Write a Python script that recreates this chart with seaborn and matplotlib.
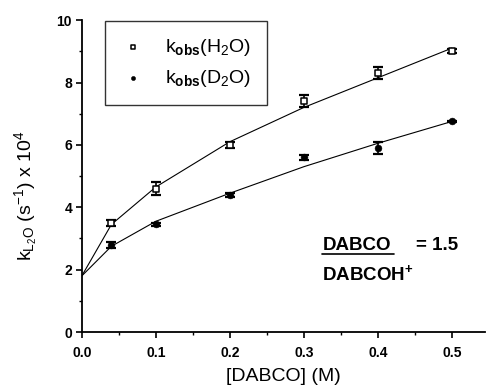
import numpy as np
import pandas as pd
import matplotlib
matplotlib.use("Agg")
import matplotlib.pyplot as plt
from matplotlib.ticker import MultipleLocator
import seaborn as sns

sns.set_theme(style="ticks")
plt.rcParams['font.family'] = ['Liberation Sans', 'DejaVu Sans']
plt.rcParams['mathtext.fontset'] = 'custom'
plt.rcParams['mathtext.rm'] = 'Liberation Sans'
plt.rcParams['mathtext.it'] = 'Liberation Sans'
plt.rcParams['mathtext.bf'] = 'Liberation Sans:bold'
for key in ("text.color", "axes.labelcolor", "xtick.color", "ytick.color",
            "axes.edgecolor"):
    plt.rcParams[key] = "black"

# measured rate constants
dabco = [0.04, 0.1, 0.2, 0.3, 0.4, 0.5]
k_h2o = [3.5, 4.6, 6.0, 7.4, 8.3, 9.0]
err_h2o = [0.1, 0.2, 0.1, 0.2, 0.2, 0.07]
k_d2o = [2.8, 3.45, 4.4, 5.6, 5.9, 6.75]
err_d2o = [0.1, 0.05, 0.07, 0.07, 0.2, 0.03]

# fitted curves
fit_x = [0.0, 0.04, 0.1, 0.2, 0.3, 0.4, 0.5]
fit_h2o = [1.8, 3.45, 4.65, 6.1, 7.2, 8.15, 9.1]
fit_d2o = [1.8, 2.75, 3.55, 4.45, 5.3, 6.05, 6.75]

xticks = [0.0, 0.1, 0.2, 0.3, 0.4, 0.5]
yticks = [0, 2, 4, 6, 8, 10]

fig = plt.figure(figsize=(4.87, 3.87), dpi=100)
ax = fig.add_axes([0.168, 0.142, 0.828, 0.806])

fits = pd.DataFrame({"x": fit_x * 2, "y": fit_h2o + fit_d2o,
                     "s": ["H"] * len(fit_x) + ["D"] * len(fit_x)})
sns.lineplot(data=fits, x="x", y="y", units="s", estimator=None,
             color="black", lw=0.8, ax=ax, legend=False)

ax.errorbar(dabco, k_h2o, yerr=err_h2o, fmt="none", ecolor="black",
            elinewidth=1.2, capsize=3.5, capthick=1.6)
ax.errorbar(dabco, k_d2o, yerr=err_d2o, fmt="none", ecolor="black",
            elinewidth=1.2, capsize=3.5, capthick=1.6)
sns.scatterplot(x=dabco, y=k_h2o, marker="s", s=20, facecolor="white",
                edgecolor="black", linewidth=1.1, ax=ax, zorder=5,
                label=r"k$_{\mathbf{obs}}$(H$_2$O)")
sns.scatterplot(x=dabco, y=k_d2o, marker="o", s=24, color="black",
                edgecolor="black", ax=ax, zorder=5,
                label=r"k$_{\mathbf{obs}}$(D$_2$O)")

ax.set_xlim(0, 0.545)
ax.set_ylim(0, 10)
ax.set_xticks(xticks)
ax.set_yticks(yticks)
ax.xaxis.set_minor_locator(MultipleLocator(0.05))
ax.yaxis.set_minor_locator(MultipleLocator(1))
ax.set_xticklabels([f"{v:.1f}" for v in xticks], fontweight="bold", fontsize=10)
ax.set_yticklabels([str(v) for v in yticks], fontweight="bold", fontsize=10)
ax.tick_params(axis="x", which="major", direction="out", length=4,
               width=1.2, pad=6)
ax.tick_params(axis="y", which="major", direction="out", length=4,
               width=1.2, pad=3)
ax.tick_params(axis="both", which="minor", direction="out", length=2.5,
               width=1.0)
sns.despine(ax=ax)
for sp in ("left", "bottom"):
    ax.spines[sp].set_linewidth(1.3)

ax.set_xlabel("[DABCO] (M)", fontsize=14, labelpad=6)
ax.set_ylabel(r"k$_{\mathregular{L_2O}}$ (s$^{\mathregular{-1}}$) x 10$^{\mathregular{4}}$",
              fontsize=14)
ax.yaxis.set_label_coords(-0.105, 0.436)

leg = ax.legend(loc="upper left", bbox_to_anchor=(0.057, 0.997), fontsize=14,
                frameon=True, fancybox=False, edgecolor="black",
                handlelength=1.3, handletextpad=1.0, borderpad=0.8,
                labelspacing=0.55, markerscale=0.6, borderaxespad=0)
leg.get_frame().set_linewidth(1.0)

ax.text(0.325, 2.63, "DABCO", fontsize=13.5, fontweight="bold",
        ha="left", va="baseline")
ax.plot([0.325, 0.422], [2.5, 2.5], color="black", lw=1.2)
ax.text(0.451, 2.63, "= 1.5", fontsize=13.5, fontweight="bold",
        ha="left", va="baseline")
ax.text(0.325, 1.67, r"DABCOH$^{\mathregular{+}}$", fontsize=13.5,
        fontweight="bold", ha="left", va="baseline")

fig.savefig("out.png", dpi=100, facecolor="white")
